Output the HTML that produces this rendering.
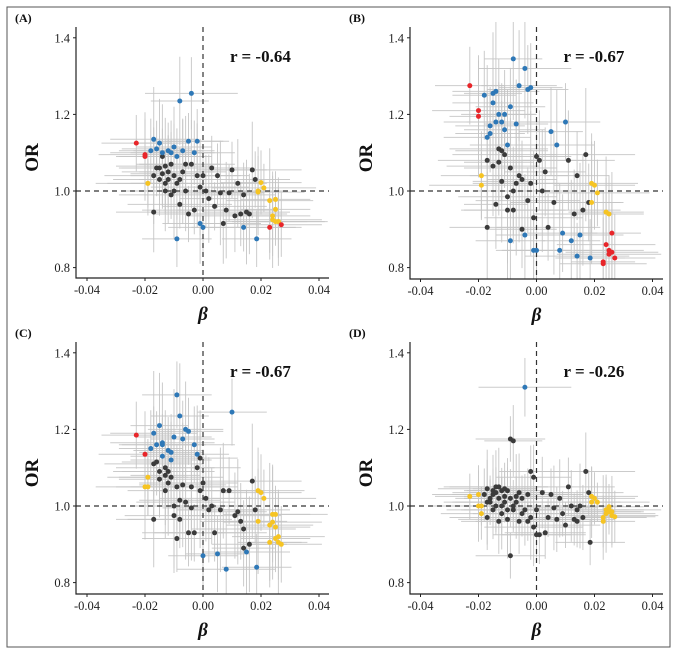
<!DOCTYPE html>
<html><head><meta charset="utf-8"><style>body{margin:0;background:#fff}svg{display:block}</style></head>
<body>
<svg id="fig" width="680" height="654" viewBox="0 0 680 654" xmlns="http://www.w3.org/2000/svg" font-family="'Liberation Serif', serif">
<rect x="7" y="7" width="663" height="640" fill="#fff" stroke="#555" stroke-width="1"/>
</svg>
<script>
const beta=[-0.023,-0.020,-0.020,-0.019,-0.019,-0.018,-0.017,-0.017,-0.017,-0.016,-0.016,-0.015,-0.015,-0.015,-0.014,-0.014,-0.014,-0.013,-0.013,-0.013,-0.012,-0.012,-0.012,-0.011,-0.011,-0.011,-0.010,-0.010,-0.010,-0.009,-0.009,-0.009,-0.008,-0.008,-0.008,-0.007,-0.007,-0.006,-0.006,-0.005,-0.005,-0.004,-0.004,-0.003,-0.003,-0.002,-0.002,-0.001,-0.001,0.000,0.000,0.001,0.002,0.003,0.004,0.005,0.006,0.007,0.008,0.009,0.010,0.011,0.012,0.013,0.014,0.014,0.015,0.016,0.017,0.018,0.0185,0.019,0.019,0.020,0.021,0.023,0.023,0.024,0.024,0.025,0.025,0.026,0.026,0.027,0.025];
const orA=[1.125,1.095,1.09,1.02,1.02,1.105,1.135,0.945,1.04,1.06,1.11,1.03,1.125,1.06,1.1,1.045,1.09,1.0,1.065,1.02,1.105,1.05,1.03,1.1,0.99,1.07,1.04,1.115,1.0,0.875,1.09,1.02,1.235,1.03,0.965,1.105,1.05,1.0,1.07,0.94,1.13,1.255,1.07,1.1,0.95,1.13,1.04,0.915,1.01,0.905,1.04,1.0,0.98,1.06,0.96,1.04,0.995,0.915,0.95,0.995,1.055,0.935,1.02,0.94,0.905,0.99,0.945,0.94,1.055,1.03,0.875,0.997,1.0,1.022,1.008,0.905,0.975,0.935,0.925,0.978,0.952,0.92,0.92,0.912,0.92];
const orB=[1.275,1.21,1.195,1.04,1.015,1.25,1.14,0.905,1.08,1.17,1.15,1.065,1.255,1.23,1.18,0.965,1.26,1.2,1.11,1.075,1.18,1.105,1.025,1.16,1.095,1.2,0.95,1.12,0.985,0.87,1.22,1.06,1.345,1.0,0.95,1.175,1.02,1.275,1.04,0.9,1.03,1.32,0.885,1.265,0.975,1.27,1.02,0.845,0.93,0.845,1.09,1.08,1.0,1.05,0.905,1.155,0.97,1.12,0.845,0.89,1.18,1.08,0.87,0.94,0.83,1.04,0.885,0.95,1.095,0.97,0.825,1.02,0.97,1.015,0.995,0.815,0.81,0.945,0.86,0.94,0.845,0.84,0.89,0.825,0.835];
const orC=[1.185,1.135,1.05,1.075,1.05,1.15,1.19,0.965,1.11,1.115,1.16,1.09,1.21,1.07,1.165,1.13,1.16,1.04,1.1,1.08,1.145,1.09,1.06,1.12,1.075,1.14,1.0,1.18,0.975,0.915,1.29,1.05,1.235,1.015,0.965,1.175,1.055,1.2,1.01,0.93,1.195,1.05,0.995,1.16,0.93,1.135,1.1,1.125,1.04,0.87,1.06,1.02,0.99,1.0,0.93,0.875,0.99,1.04,0.835,1.04,1.245,0.975,0.985,0.96,0.94,0.89,0.88,0.9,1.065,0.99,0.84,1.04,0.96,1.035,1.02,0.905,0.95,0.978,0.958,0.915,0.945,0.92,0.905,0.9,0.978];
const orD=[1.025,1.03,1.0,0.98,1.0,1.03,1.01,0.97,1.045,1.02,1.01,0.99,1.04,1.03,1.05,1.0,1.035,0.96,1.05,1.02,1.04,1.0,0.98,1.025,1.01,1.045,0.99,1.04,0.965,0.87,1.175,1.02,1.17,1.0,0.99,1.01,1.025,0.96,1.035,0.98,1.02,1.31,0.99,1.03,0.96,1.09,0.97,1.075,0.945,0.925,0.99,0.925,1.035,0.93,0.97,1.03,0.995,0.965,1.02,0.98,0.95,1.05,1.0,0.965,0.99,0.96,1.0,0.97,1.09,1.035,0.905,1.025,1.01,1.02,1.01,0.96,0.97,0.99,0.98,0.998,0.985,0.975,0.985,0.972,0.99];
const catA="rrryybbkkkbkbkbkkkkkbkkbkkkbkbbkbkkbkkkkbbkbkbkbkbkkkkkkkkkkkkkkbkkkkkbyyyyryyyyyyyry";
const catB="rrryybbkkbbkbbbkbbkkbkkbkbkbkbbkbkkbkbkkkbbbkbkbkbkkkkkbkbbbbkbkbkbkkkbyyyyrryryrrrrr";
const catC="rryyybbkkkbkbkbbbkkkbkkbkbkbkkbkbkkbkbkkbkkbkbkkkbkkkkkbkkbkbkkkkkbkkkbyyyyyyyyyyyyyy";
const catD="yyyyykkkkkkkkkkkkkkkkkkkkkkkkkkkkkkkkkkkkbkkkkkkkkkkkkkkkkkkkkkkkkkkkkkyyyyyyyyyyyyyy";
const errX=[0.012,0.016,0.010,0.014,0.018,0.011,0.015,0.013,0.017,0.012];
const errY=[0.07,0.10,0.06,0.09,0.12,0.08,0.11,0.07,0.13,0.08];
const yScaleErr=[1.05,1.45,1.25,0.85];
const panelLabels=["(A)","(B)","(C)","(D)"];
const rLabels=["r = -0.64","r = -0.67","r = -0.67","r = -0.26"];
const xTicks=[-0.04,-0.02,0.00,0.02,0.04];
const yTicks=[0.8,1.0,1.2,1.4];
const panels=[
 {axL:76,x0:203,y1:191,axB:278,axT:27,axR:329,or:orA,cat:catA},
 {axL:410,x0:536.5,y1:191,axB:279,axT:27,axR:663,or:orB,cat:catB},
 {axL:76,x0:203,y1:506,axB:594,axT:342,axR:329,or:orC,cat:catC},
 {axL:410,x0:536.5,y1:506,axB:594,axT:342,axR:663,or:orD,cat:catD}];
const colors={k:"#3b3b3b",b:"#2e78b7",y:"#f6c423",r:"#e8262a"};
const NS="http://www.w3.org/2000/svg";
const svg=document.getElementById("fig");
function mk(tag,attrs,parent){const e=document.createElementNS(NS,tag);for(const k in attrs)e.setAttribute(k,attrs[k]);(parent||svg).appendChild(e);return e;}
panels.forEach((p,pi)=>{
 const xs=b=>p.x0+b*2900, ys=o=>p.y1-(o-1)*383;
 const g=mk("g",{});
 
 
 const cp=mk("clipPath",{id:"cp"+pi},g);
 mk("rect",{x:p.axL-20,y:p.axT-5,width:p.axR-p.axL+40,height:p.axB-p.axT+5},cp);
 const eg=mk("g",{"clip-path":"url(#cp"+pi+")"},g);
 
 
 beta.forEach((b,i)=>{
  const ex=errX[i%10], ey=errY[(i*3)%10]*yScaleErr[pi];
  const o=p.or[i];
  const hl=mk("line",{x1:xs(b-ex),x2:xs(b+ex),y1:ys(o),y2:ys(o),stroke:"#c6c6c6","stroke-width":1,opacity:0.9},eg);
  
  
  const vl=mk("line",{x1:xs(b),x2:xs(b),y1:ys(o-ey),y2:ys(o+ey),stroke:"#c6c6c6","stroke-width":1,opacity:0.9},eg);
  
  
 });
 const dv=mk("line",{x1:p.x0,x2:p.x0,y1:p.axT,y2:p.axB,stroke:"#333","stroke-width":1.2,"stroke-dasharray":"5,4"},g);
 
 
 const dh=mk("line",{x1:p.axL,x2:p.axR,y1:p.y1,y2:p.y1,stroke:"#333","stroke-width":1.2,"stroke-dasharray":"5,4"},g);
 
 
 "kbyr".split("").forEach(c=>{
  beta.forEach((b,i)=>{ if(p.cat[i]!==c)return;
   const pt=mk("circle",{cx:xs(b),cy:ys(p.or[i]),r:2.5,fill:colors[c]},g);
   
   
  });
 });
 const ax=mk("path",{d:`M${p.axL},${p.axT}V${p.axB}H${p.axR}`,fill:"none",stroke:"#222","stroke-width":1.2},g);
 
 
 xTicks.forEach(t=>{
  mk("line",{x1:xs(t),x2:xs(t),y1:p.axB,y2:p.axB+3,stroke:"#222"},g);
  const tx=mk("text",{x:xs(t),y:p.axB+16,"text-anchor":"middle","font-size":12.5,fill:"#222"},g);
  tx.textContent=t.toFixed(2);
  
  
 });
 yTicks.forEach(t=>{
  mk("line",{x1:p.axL-3,x2:p.axL,y1:ys(t),y2:ys(t),stroke:"#222"},g);
  const tx=mk("text",{x:p.axL-6,y:ys(t)+4.5,"text-anchor":"end","font-size":12.5,fill:"#222"},g);
  tx.textContent=t.toFixed(1);
  
  
 });
 const yl=mk("text",{x:0,y:0,transform:`translate(${p.axL-38},${(p.axT+p.axB)/2+5}) rotate(-90)`,"text-anchor":"middle","font-size":19,"font-weight":"bold",fill:"#111"},g);
 yl.textContent="OR";
 
 
 const xl=mk("text",{x:p.x0,y:p.axB+42,"text-anchor":"middle","font-size":19,"font-weight":"bold","font-style":"italic",fill:"#111"},g);
 xl.textContent="β";
 
 
 const rl=mk("text",{x:p.x0+27,y:p.y1-129,"font-size":17,"font-weight":"bold",fill:"#111"},g);
 rl.textContent=rLabels[pi];
 
 
 const pl=mk("text",{x:p.axL-61,y:p.axT-5,"font-size":12,"font-weight":"bold",fill:"#111"},g);
 pl.textContent=panelLabels[pi];
 
 
});
</script>
</body></html>
